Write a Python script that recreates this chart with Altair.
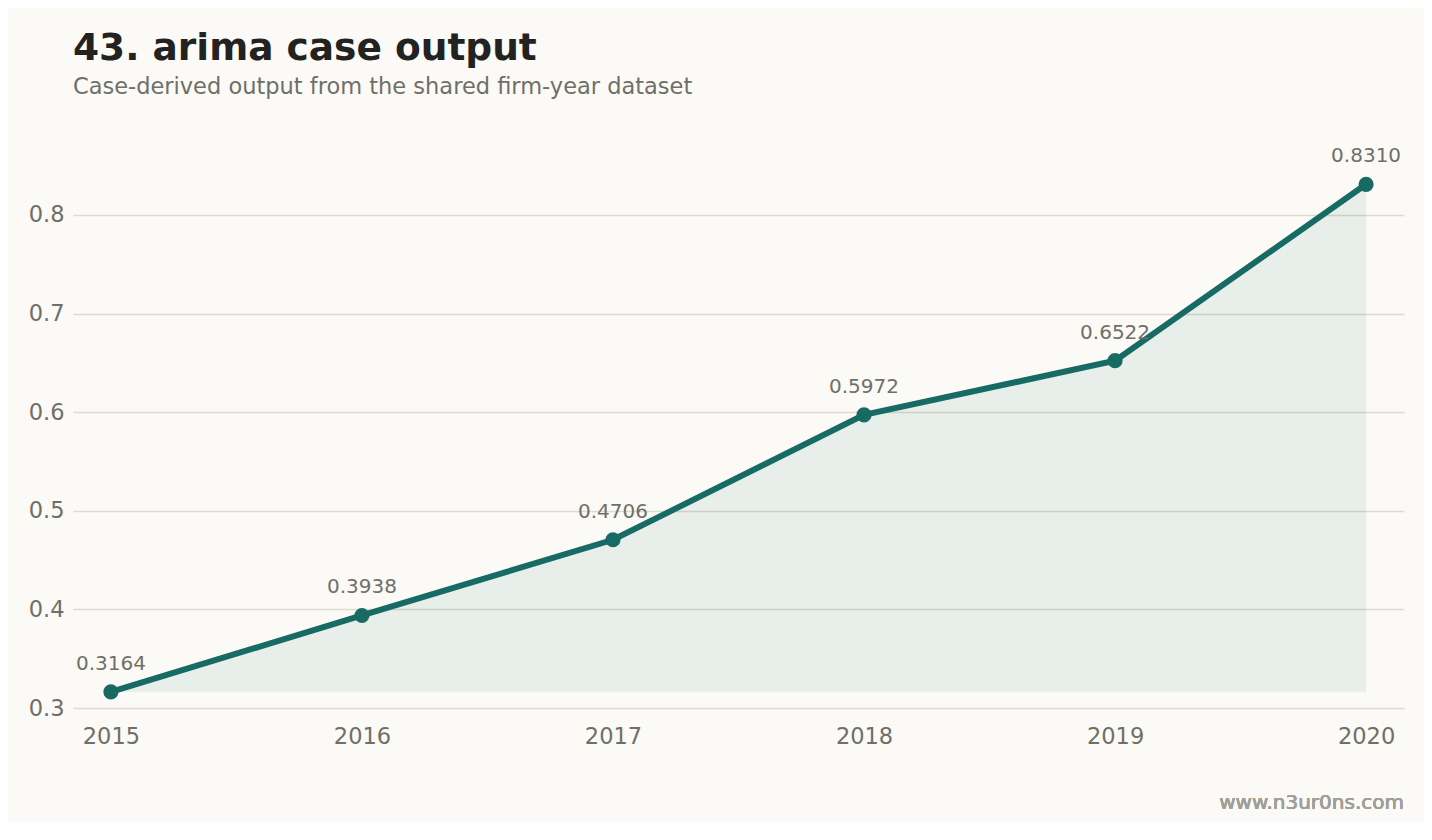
import altair as alt
import pandas as pd

years = ["2015", "2016", "2017", "2018", "2019", "2020"]
values = [0.3164, 0.3938, 0.4706, 0.5972, 0.6522, 0.8310]
labels = ["0.3164", "0.3938", "0.4706", "0.5972", "0.6522", "0.8310"]

base_val = min(values)
df = pd.DataFrame({"year": years, "value": values, "label": labels, "base": [base_val] * len(years)})

TEAL = "#176B64"
GRAY = "#6F6F69"
FONT = "DejaVu Sans"

x = alt.X("year:O", axis=alt.Axis(labelAngle=0, title=None, labelFontSize=22.5, labelColor=GRAY,
                                   labelFont=FONT, ticks=False, domain=False, labelPadding=17, grid=False),
          scale=alt.Scale(type="point", padding=0.151))
y_scale = alt.Scale(domain=[0.3, 0.88], nice=False, zero=False)

area = alt.Chart(df).mark_area(color=TEAL, opacity=0.08, stroke=TEAL, strokeOpacity=0.05, strokeWidth=2).encode(
    x=x,
    y=alt.Y("value:Q", scale=y_scale,
            axis=alt.Axis(values=[0.3, 0.4, 0.5, 0.6, 0.7, 0.8], format=".1f", title=None, labelFontSize=22.5,
                          labelColor=GRAY, labelFont=FONT, ticks=False, domain=False,
                          gridColor="#DEDAD2", gridWidth=1.5, labelPadding=9)),
    y2="base:Q",
)
line = alt.Chart(df).mark_line(color=TEAL, strokeWidth=6).encode(x=x, y=alt.Y("value:Q", scale=y_scale))
points = alt.Chart(df).mark_circle(color=TEAL, size=230, opacity=1).encode(x=x, y=alt.Y("value:Q", scale=y_scale))
text = alt.Chart(df).mark_text(dy=-28, fontSize=20, color=GRAY, font=FONT).encode(
    x=x, y=alt.Y("value:Q", scale=y_scale), text="label:N")
footer = alt.Chart(df).mark_text(align="right", baseline="middle", fontSize=20, color="#A09F99", font=FONT).encode(
    x=alt.value(1331), y=alt.value(667), text=alt.value("www.n3ur0ns.com"))

chart = alt.layer(area, line, points, text, footer).properties(
    width=1331, height=572,
    background="#FBFAF6",
    padding={"left": 65, "top": 128, "right": 20, "bottom": 114},
    autosize=alt.AutoSizeParams(type="none"),
    title=alt.Title("43. arima case output",
                    subtitle="Case-derived output from the shared firm-year dataset",
                    anchor="start", frame="group", font=FONT, fontSize=37.5, fontWeight="bold",
                    color="#222220", subtitleFont=FONT, subtitleFontSize=22.5, subtitleColor=GRAY,
                    subtitlePadding=8, offset=38),
).configure_view(stroke=None)

chart.save("out.html", embed_options={"renderer": "svg", "actions": False})
